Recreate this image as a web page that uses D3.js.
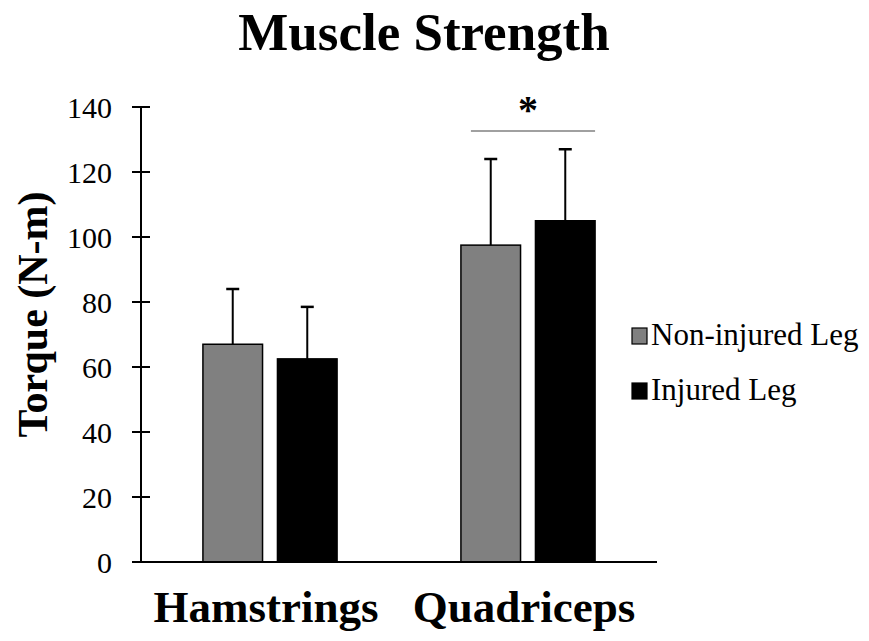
<!DOCTYPE html>
<html>
<head>
<meta charset="utf-8">
<script src="https://cdn.jsdelivr.net/npm/d3@7"></script>
<style>
  body { margin: 0; background: #fff; }
  text { font-family: "Liberation Serif", "Times New Roman", serif; fill: #000; }
</style>
</head>
<body>
<div id="chart"></div>
<script>
// chart data
var categories = ["Hamstrings", "Quadriceps"];
var seriesNames = ["Non-injured Leg", "Injured Leg"];
var seriesColors = ["#808080", "#000000"];
var nonInjured = [67, 97.5];
var injured = [62.5, 105];
var nonInjuredErr = [17, 26.5];
var injuredErr = [16, 22];
var yTicks = [0, 20, 40, 60, 80, 100, 120, 140];

var width = 869, height = 641;
var margin = { top: 107, right: 212, bottom: 79, left: 141 };
var innerW = width - margin.left - margin.right,
    innerH = height - margin.top - margin.bottom;

var svg = d3.select("#chart").append("svg")
    .attr("width", width)
    .attr("height", height);

var g = svg.append("g")
    .attr("transform", "translate(" + margin.left + "," + margin.top + ")");

// scales
var x0 = d3.scaleBand()
    .domain(categories)
    .range([0, innerW])
    .paddingInner(0.48)
    .paddingOuter(0.24);

var x1 = d3.scaleBand()
    .domain(seriesNames)
    .range([0, x0.bandwidth()])
    .paddingInner(0.2);

var y = d3.scaleLinear()
    .domain([0, 140])
    .range([innerH, 0]);

// build rows for bars
var rows = [];
categories.forEach(function(c, i) {
    rows.push({ cat: c, series: seriesNames[0], value: nonInjured[i], err: nonInjuredErr[i], color: seriesColors[0] });
    rows.push({ cat: c, series: seriesNames[1], value: injured[i], err: injuredErr[i], color: seriesColors[1] });
});

// bars
g.selectAll("rect.bar")
    .data(rows)
    .enter().append("rect")
    .attr("class", "bar")
    .attr("x", function(d) { return x0(d.cat) + x1(d.series); })
    .attr("y", function(d) { return y(d.value); })
    .attr("width", x1.bandwidth())
    .attr("height", function(d) { return innerH - y(d.value); })
    .attr("fill", function(d) { return d.color; })
    .attr("stroke", "#000")
    .attr("stroke-width", 1.5);

// error bars (upper only)
var capW = 13;
var errG = g.append("g").attr("class", "errors");
errG.selectAll("line.stem")
    .data(rows)
    .enter().append("line")
    .attr("x1", function(d) { return x0(d.cat) + x1(d.series) + x1.bandwidth() / 2; })
    .attr("x2", function(d) { return x0(d.cat) + x1(d.series) + x1.bandwidth() / 2; })
    .attr("y1", function(d) { return y(d.value); })
    .attr("y2", function(d) { return y(d.value + d.err); })
    .attr("stroke", "#000")
    .attr("stroke-width", 2);
errG.selectAll("line.cap")
    .data(rows)
    .enter().append("line")
    .attr("x1", function(d) { return x0(d.cat) + x1(d.series) + x1.bandwidth() / 2 - capW / 2; })
    .attr("x2", function(d) { return x0(d.cat) + x1(d.series) + x1.bandwidth() / 2 + capW / 2; })
    .attr("y1", function(d) { return y(d.value + d.err); })
    .attr("y2", function(d) { return y(d.value + d.err); })
    .attr("stroke", "#000")
    .attr("stroke-width", 2.5);

// y axis, ticks cross the axis line
var yAxis = g.append("g").attr("class", "y-axis");
yAxis.append("line")
    .attr("x1", 0).attr("x2", 0)
    .attr("y1", y(140)).attr("y2", y(0))
    .attr("stroke", "#000").attr("stroke-width", 2);
yAxis.selectAll("line.tick")
    .data(yTicks)
    .enter().append("line")
    .attr("x1", -9).attr("x2", 9)
    .attr("y1", function(d) { return y(d); })
    .attr("y2", function(d) { return y(d); })
    .attr("stroke", "#000").attr("stroke-width", 2);
yAxis.selectAll("text")
    .data(yTicks)
    .enter().append("text")
    .attr("x", -29)
    .attr("y", function(d) { return y(d); })
    .attr("dy", "0.35em")
    .attr("text-anchor", "end")
    .style("font-size", "30px")
    .text(function(d) { return d; });

// x axis line
g.append("line")
    .attr("x1", 0).attr("x2", innerW)
    .attr("y1", innerH).attr("y2", innerH)
    .attr("stroke", "#000").attr("stroke-width", 2);

// category labels
g.selectAll("text.cat")
    .data(categories)
    .enter().append("text")
    .attr("class", "cat")
    .attr("x", function(d) { return x0(d) + x0.bandwidth() / 2 - 4; })
    .attr("y", innerH + 60)
    .attr("text-anchor", "middle")
    .style("font-size", "45px")
    .style("font-weight", "bold")
    .text(function(d) { return d; });

// significance marker over quadriceps
var q = categories[1];
g.append("line")
    .attr("x1", x0(q) + 10).attr("x2", x0(q) + x0.bandwidth())
    .attr("y1", y(140) + 24).attr("y2", y(140) + 24)
    .attr("stroke", "#808080").attr("stroke-width", 1.5);
g.append("text")
    .attr("x", x0(q) + x0.bandwidth() / 2)
    .attr("y", 16)
    .attr("text-anchor", "middle")
    .style("font-size", "40px")
    .style("font-weight", "bold")
    .text("*");

// title
svg.append("text")
    .attr("x", 424)
    .attr("y", 50)
    .attr("text-anchor", "middle")
    .style("font-size", "53px")
    .style("font-weight", "bold")
    .text("Muscle Strength");

// y axis title
svg.append("text")
    .attr("transform", "translate(47," + (margin.top + innerH / 2 - 20) + ") rotate(-90)")
    .attr("text-anchor", "middle")
    .style("font-size", "42px")
    .style("font-weight", "bold")
    .text("Torque (N-m)");

// legend
var legend = svg.append("g")
    .attr("transform", "translate(632,328)");
var li = legend.selectAll("g")
    .data(seriesNames)
    .enter().append("g")
    .attr("transform", function(d, i) { return "translate(0," + (i * 55) + ")"; });
li.append("rect")
    .attr("width", 15).attr("height", 16)
    .attr("fill", function(d, i) { return seriesColors[i]; })
    .attr("stroke", "#000").attr("stroke-width", 1.2);
li.append("text")
    .attr("x", 19)
    .attr("y", 17)
    .style("font-size", "31px")
    .text(function(d) { return d; });
</script>
</body>
</html>
